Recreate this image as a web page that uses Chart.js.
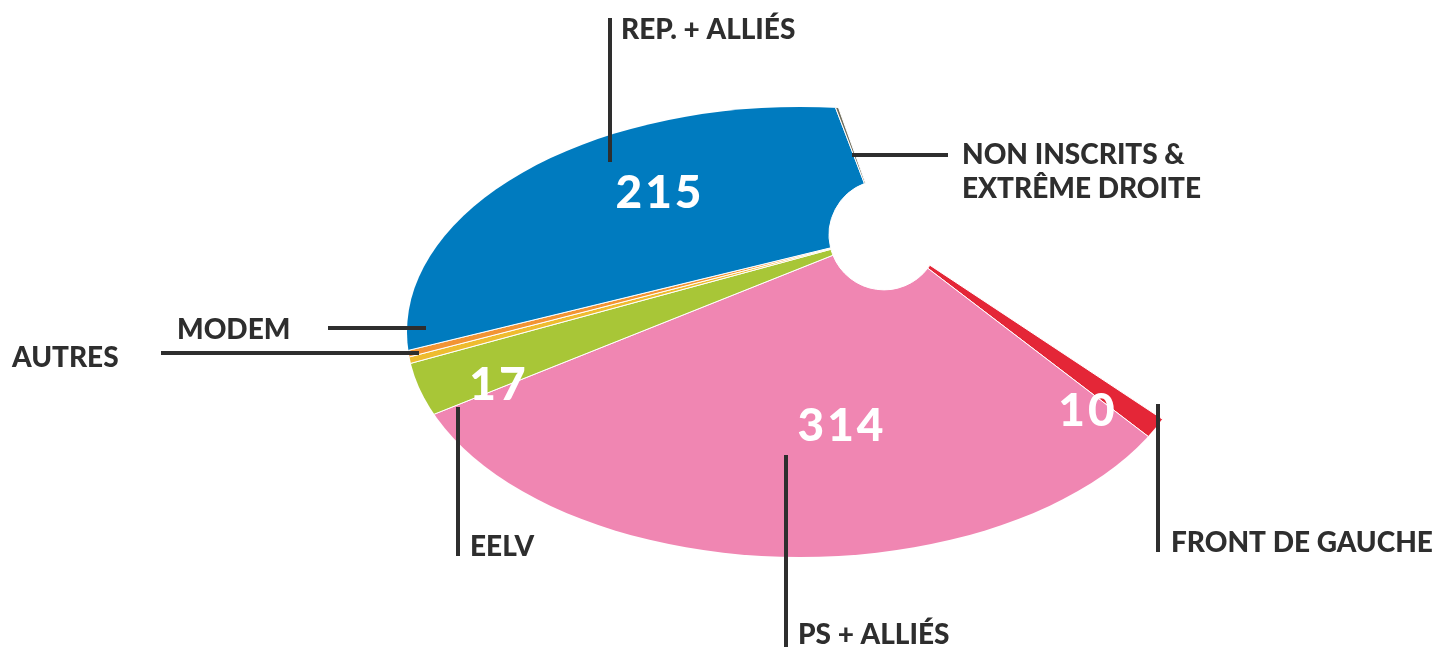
<!DOCTYPE html>
<html lang="fr">
<head>
<meta charset="utf-8">
<title>Assemblée nationale</title>
<script src="https://cdn.jsdelivr.net/npm/chart.js@4/dist/chart.umd.min.js"></script>
<style>
  html, body { margin: 0; padding: 0; background: #fff; overflow: hidden; }
  canvas { display: block; }
</style>
</head>
<body>
<canvas id="sieges" width="1441" height="647"></canvas>
<script>
// Groupes, dans l'ordre du tracé (sens horaire, en partant du Front de gauche)
const groupes = ["FRONT DE GAUCHE", "PS + ALLIÉS", "EELV", "AUTRES", "MODEM", "REP. + ALLIÉS", "NON INSCRITS &\nEXTRÊME DROITE"];
const sieges = [10, 314, 17, 2, 2, 215, 3];
const couleurs = ["#e42637", "#f086b2", "#a8c637", "#eebc2f", "#f29434", "#007bbf", "#6f6d5c"];
// chiffres écrits en blanc sur les parts
const chiffresVisibles = [true, true, true, false, false, true, false];

// Mise en page des étiquettes (texte + trait de rappel)
const etiquettes = [
  { x: 1171, y: 552, trait: [1158, 404, 1158, 552], chiffre: [1088, 426] },
  { x: 798, y: 644, trait: [786, 455, 786, 647], chiffre: [842, 441] },
  { x: 470, y: 556, trait: [458, 407, 458, 556], chiffre: [499, 400] },
  { x: 12, y: 367, trait: [161, 353, 419, 353] },
  { x: 177, y: 339, trait: [328, 328, 426, 328] },
  { x: 621, y: 39, trait: [610, 18, 610, 162], chiffre: [660, 208] },
  { x: 962, y: 164, trait: [852, 155, 948, 155] }
];

// Contour elliptique du camembert vu en perspective
const contour = { cx: 800, cy: 332, rx: 393, ry: 225 };

const ellipsePlugin = {
  id: "ellipse",
  beforeDatasetsDraw(chart) {
    const ctx = chart.ctx;
    ctx.save();
    ctx.beginPath();
    ctx.ellipse(contour.cx, contour.cy, contour.rx, contour.ry, 0, 0, Math.PI * 2);
    ctx.clip();
  },
  afterDatasetsDraw(chart) {
    chart.ctx.restore();
  }
};

const etiquettesPlugin = {
  id: "etiquettes",
  afterDraw(chart) {
    const ctx = chart.ctx;
    ctx.save();
    groupes.forEach((nom, i) => {
      const e = etiquettes[i];
      // trait
      ctx.strokeStyle = "#2e2e2e";
      ctx.lineWidth = 4;
      ctx.beginPath();
      ctx.moveTo(e.trait[0], e.trait[1]);
      ctx.lineTo(e.trait[2], e.trait[3]);
      ctx.stroke();
      // texte
      ctx.fillStyle = "#2e2e2e";
      ctx.font = "900 28px Lato";
      ctx.textAlign = "left";
      ctx.textBaseline = "alphabetic";
      ctx.letterSpacing = "0px";
      nom.split("\n").forEach((ligne, j) => {
        ctx.fillText(ligne, e.x, e.y + j * 34);
      });
      // chiffre
      if (chiffresVisibles[i] && e.chiffre) {
        ctx.fillStyle = "#ffffff";
        ctx.font = "900 46px Lato";
        ctx.textAlign = "center";
        ctx.letterSpacing = "3px";
        ctx.fillText(String(sieges[i]), e.chiffre[0], e.chiffre[1]);
      }
    });
    ctx.restore();
  }
};

const ctx = document.getElementById("sieges").getContext("2d");

new Chart(ctx, {
  type: "doughnut",
  data: {
    labels: groupes,
    datasets: [{
      data: sieges,
      backgroundColor: couleurs,
      borderColor: "#ffffff",
      borderWidth: 1
    }]
  },
  options: {
    responsive: false,
    animation: false,
    rotation: 123.5,
    circumference: 216.8,
    radius: 500,
    cutout: "11%",
    layout: { padding: { left: 244, right: 0, top: 0, bottom: 148 } },
    plugins: {
      legend: { display: false },
      tooltip: { enabled: false }
    }
  },
  plugins: [ellipsePlugin, etiquettesPlugin]
});
</script>
</body>
</html>
